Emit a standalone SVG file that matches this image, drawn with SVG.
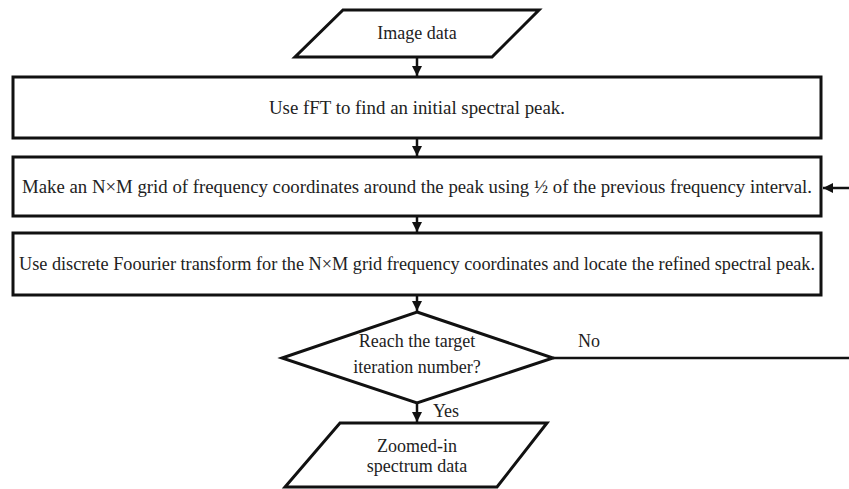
<svg xmlns="http://www.w3.org/2000/svg" width="849" height="489" viewBox="0 0 849 489">
<style>
.s{fill:#fff;stroke:#111;stroke-width:3}
.t{font-size:18px;fill:#222;text-anchor:middle}
.c{fill:none;stroke:#111;stroke-width:2.5}
</style>
<defs>
<marker id="a" viewBox="0 0 10 10" refX="10" refY="5" markerWidth="4" markerHeight="4" orient="auto" markerUnits="strokeWidth">
<path d="M0,0 L10,5 L0,10 z" fill="#111"/>
</marker>
</defs>
<g font-family="Liberation Serif, Times New Roman, DejaVu Serif, serif">
<g id="connectors">
<line class="c" x1="417" y1="58" x2="417" y2="76" marker-end="url(#a)"/>
<line class="c" x1="417" y1="138" x2="417" y2="156" marker-end="url(#a)"/>
<line class="c" x1="417" y1="216" x2="417" y2="232" marker-end="url(#a)"/>
<line class="c" x1="417" y1="295" x2="417" y2="311" marker-end="url(#a)"/>
<line class="c" x1="417" y1="403" x2="417" y2="422" marker-end="url(#a)"/>
<line class="c" x1="553" y1="358" x2="849" y2="358"/>
<line class="c" x1="849" y1="188" x2="823" y2="188" marker-end="url(#a)"/>
<text class="t" x="589" y="347">No</text>
<text class="t" x="446" y="417">Yes</text>
</g>
<g id="n1">
<polygon class="s" points="343,10 539,10 492,57 295,57"/>
<text class="t" x="417" y="39">Image data</text>
</g>
<g id="n2">
<rect class="s" x="13" y="77" width="808" height="61"/>
<text class="t" x="417" y="114" textLength="296" lengthAdjust="spacingAndGlyphs">Use fFT to find an initial spectral peak.</text>
</g>
<g id="n3">
<rect class="s" x="13" y="157" width="808" height="59"/>
<text class="t" x="417" y="193" textLength="790" lengthAdjust="spacingAndGlyphs">Make an N×M grid of frequency coordinates around the peak using ½ of the previous frequency interval.</text>
</g>
<g id="n4">
<rect class="s" x="13" y="233" width="808" height="62"/>
<text class="t" x="417" y="270" textLength="796" lengthAdjust="spacingAndGlyphs">Use discrete Foourier transform for the N×M grid frequency coordinates and locate the refined spectral peak.</text>
</g>
<g id="n5">
<polygon class="s" points="417,312 553,358 417,403 282,358"/>
<text class="t" x="417" y="347">Reach the target</text>
<text class="t" x="417" y="373">iteration number?</text>
</g>
<g id="n6">
<polygon class="s" points="340,423 547,423 497,487 285,487"/>
<text class="t" x="417" y="452">Zoomed-in</text>
<text class="t" x="417" y="472">spectrum data</text>
</g>
</g>
</svg>
